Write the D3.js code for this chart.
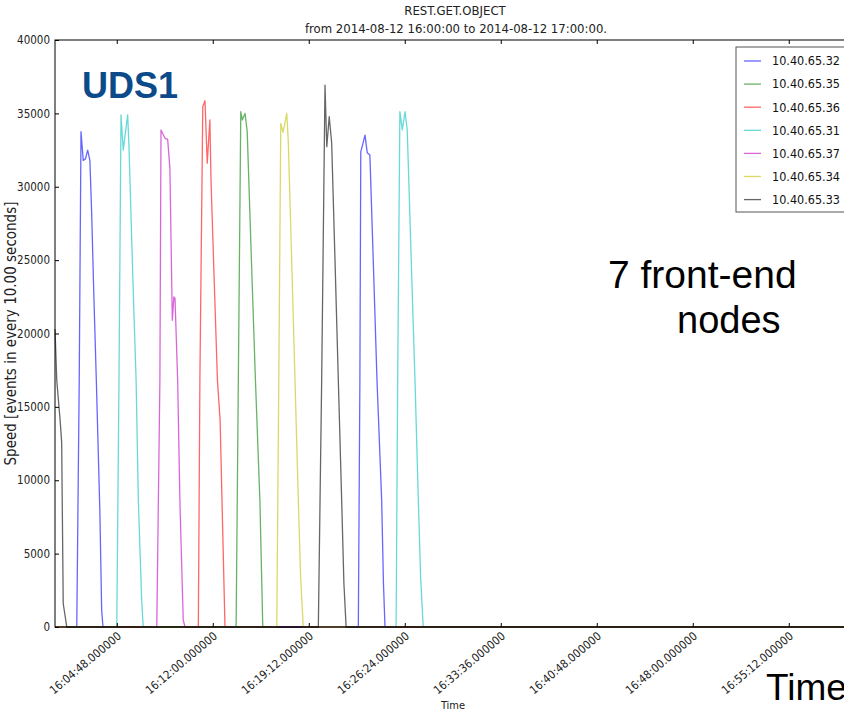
<!DOCTYPE html>
<html>
<head>
<meta charset="utf-8">
<script src="https://cdn.jsdelivr.net/npm/d3@7"></script>
<style>
  body { margin: 0; background: #fff; }
  text { font-family: "DejaVu Sans Condensed", "DejaVu Sans", sans-serif; }
</style>
</head>
<body>
<svg id="chart" width="844" height="713"></svg>
<script>
// series are [seconds after 16:00:00, events per 10 s]
const ip32 = [[10,0],[108,0],[119,16800],[127,33750],[137,31800],[147,31900],[157,32500],[167,31800],[175,28200],[185,22500],[196,16800],[212,7800],[220,1150],[226,0],
  [1375,0],[1382,16800],[1386,32390],[1395,32900],[1405,33520],[1415,32320],[1427,32160],[1440,26000],[1459,16800],[1480,8650],[1488,3000],[1495,0],[3600,0]];
const ip35 = [[10,0],[825,0],[835,16800],[846,35110],[853,34550],[865,35000],[875,33750],[885,29100],[895,24500],[912,16800],[932,8650],[945,0],[3600,0]];
const ip36 = [[10,0],[655,0],[662,16800],[675,35450],[685,35860],[695,31600],[707,34550],[712,30460],[725,24300],[741,16800],[753,14100],[764,7000],[775,0],[3600,0]];
const ip31 = [[10,0],[288,0],[298,17000],[307,34900],[317,32500],[337,34900],[343,32700],[355,26500],[365,21500],[375,16800],[385,8650],[400,1840],[407,0],
  [1545,0],[1552,16800],[1562,35110],[1573,33870],[1585,35110],[1595,33870],[1605,29000],[1615,24000],[1630,16800],[1645,8650],[1655,3500],[1667,0],[3600,0]];
const ip37 = [[10,0],[468,0],[482,16800],[487,33870],[505,33300],[517,33230],[527,31250],[538,20900],[545,22500],[550,22400],[562,16800],[572,8650],[587,480],[595,0],[3600,0]];
const ip34 = [[10,0],[1008,0],[1017,16800],[1026,34320],[1036,33700],[1053,35000],[1060,33000],[1075,25000],[1090,16800],[1105,8650],[1115,3500],[1127,0],[3600,0]];
const ip33 = [[10,20300],[18,16800],[33,14100],[40,12600],[47,1600],[63,0],
  [1195,0],[1210,16800],[1225,36930],[1233,32730],[1244,34770],[1255,33000],[1270,25000],[1285,16800],[1300,8650],[1310,3000],[1320,0],[3600,0]];

const names = ['10.40.65.32','10.40.65.35','10.40.65.36','10.40.65.31','10.40.65.37','10.40.65.34','10.40.65.33'];
const seriesData = [ip32, ip35, ip36, ip31, ip37, ip34, ip33];
const colors = ['#0000ff','#008000','#ff0000','#00bfbf','#bf00bf','#bfbf00','#000000'];

const xTickLabels = ['16:04:48.000000','16:12:00.000000','16:19:12.000000','16:26:24.000000',
  '16:33:36.000000','16:40:48.000000','16:48:00.000000','16:55:12.000000'];
const yTicks = [0,5000,10000,15000,20000,25000,30000,35000,40000];

const day = '2014-08-12';
const start = new Date(2014, 7, 12, 16, 0, 0);
const toDate = s => new Date(start.getTime() + s * 1000);
const parseTick = d3.timeParse('%Y-%m-%d %H:%M:%S.%f');

const plotLeft = 55, plotTop = 40, plotBottom = 627;
const plotRight = plotLeft + 3590 / 4.5;

const svg = d3.select('#chart');

const x = d3.scaleTime()
  .domain([toDate(10), toDate(3600)])
  .range([plotLeft, plotRight]);
const y = d3.scaleLinear()
  .domain([0, 40000])
  .range([plotBottom, plotTop]);

// lines
const line = d3.line()
  .x(d => x(toDate(d[0])))
  .y(d => y(d[1]));

seriesData.forEach((s, i) => {
  svg.append('path')
    .datum(s)
    .attr('d', line)
    .attr('fill', 'none')
    .attr('stroke', colors[i])
    .attr('stroke-opacity', 0.6)
    .attr('stroke-width', 1.3)
    .attr('stroke-linejoin', 'round');
});

// frame
svg.append('rect')
  .attr('x', plotLeft).attr('y', plotTop)
  .attr('width', plotRight - plotLeft).attr('height', plotBottom - plotTop)
  .attr('fill', 'none').attr('stroke', '#000').attr('stroke-width', 1);

const tickDates = xTickLabels.map(t => parseTick(day + ' ' + t));

const xAxis = d3.axisBottom(x)
  .tickValues(tickDates)
  .tickFormat(d3.timeFormat('%H:%M:%S.%f'))
  .tickSizeInner(-4).tickSizeOuter(0);
const gx = svg.append('g')
  .attr('transform', `translate(0,${plotBottom})`)
  .call(xAxis);
gx.select('.domain').remove();
gx.selectAll('text')
  .attr('x', -3).attr('y', 7).attr('dy', '0.35em')
  .attr('transform', 'rotate(-40)')
  .style('text-anchor', 'end')
  .style('font-size', '11.5px')
  .attr('fill', '#222');

const gxTop = svg.append('g')
  .attr('transform', `translate(0,${plotTop})`)
  .call(d3.axisTop(x).tickValues(tickDates).tickFormat('').tickSizeInner(-4).tickSizeOuter(0));
gxTop.select('.domain').remove();

const gy = svg.append('g')
  .attr('transform', `translate(${plotLeft},0)`)
  .call(d3.axisLeft(y).tickValues(yTicks).tickFormat(d3.format('d'))
    .tickSizeInner(-4).tickSizeOuter(0).tickPadding(5));
gy.select('.domain').remove();
gy.selectAll('text').style('font-size', '11.5px').attr('fill', '#222');

// titles
svg.append('text')
  .attr('x', 455).attr('y', 15)
  .attr('text-anchor', 'middle')
  .style('font-size', '13px').attr('fill', '#222')
  .text('REST.GET.OBJECT');
svg.append('text')
  .attr('x', 456).attr('y', 33)
  .attr('text-anchor', 'middle')
  .style('font-size', '13px').attr('fill', '#222')
  .text('from 2014-08-12 16:00:00 to 2014-08-12 17:00:00.');

svg.append('text')
  .attr('x', 453).attr('y', 709)
  .attr('text-anchor', 'middle')
  .style('font-size', '11px').attr('fill', '#222')
  .text('Time');

svg.append('text')
  .attr('transform', `translate(16,${(plotTop + plotBottom) / 2}) rotate(-90)`)
  .attr('text-anchor', 'middle')
  .style('font-size', '15px').attr('fill', '#222')
  .text('Speed [events in every 10.00 seconds]');

// legend
const legend = svg.append('g').attr('transform', 'translate(736,47)');
legend.append('rect')
  .attr('width', 130).attr('height', 165)
  .attr('fill', '#fff').attr('stroke', '#555').attr('stroke-width', 1);
names.forEach((n, i) => {
  const ly = 14 + i * 23.1;
  legend.append('line')
    .attr('x1', 8).attr('x2', 25).attr('y1', ly).attr('y2', ly)
    .attr('stroke', colors[i]).attr('stroke-opacity', 0.6).attr('stroke-width', 1.3);
  legend.append('text')
    .attr('x', 36).attr('y', ly).attr('dy', '0.35em')
    .style('font-size', '12.5px').attr('fill', '#111')
    .text(n);
});

// slide annotations
svg.append('text')
  .attr('x', 82).attr('y', 98)
  .style('font-family', '"Liberation Sans", Arial, sans-serif')
  .style('font-weight', 'bold').style('font-size', '36px')
  .attr('fill', '#0d4a8a')
  .text('UDS1');
svg.append('text')
  .attr('x', 608).attr('y', 288)
  .style('font-family', '"Liberation Sans", Arial, sans-serif')
  .style('font-size', '39px').attr('fill', '#000')
  .text('7 front-end');
svg.append('text')
  .attr('x', 677).attr('y', 333)
  .style('font-family', '"Liberation Sans", Arial, sans-serif')
  .style('font-size', '38px').attr('fill', '#000')
  .text('nodes');
svg.append('text')
  .attr('x', 766).attr('y', 700)
  .style('font-family', '"Liberation Sans", Arial, sans-serif')
  .style('font-size', '37px').attr('fill', '#000')
  .text('Time');
</script>
</body>
</html>
